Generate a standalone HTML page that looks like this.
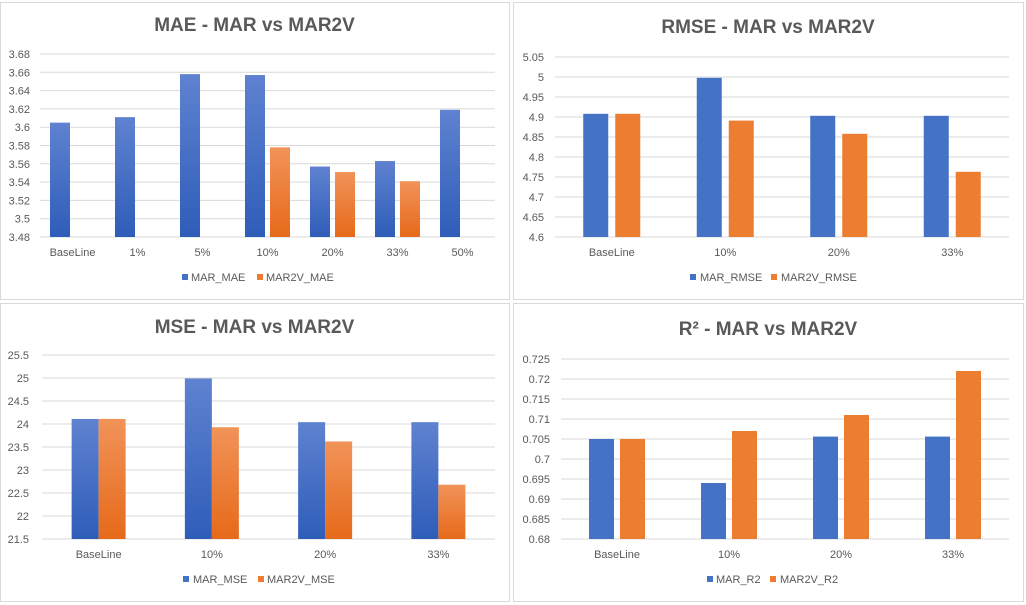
<!DOCTYPE html>
<html><head><meta charset="utf-8"><style>
html,body{margin:0;padding:0;background:#fff;width:1026px;height:605px;overflow:hidden}
svg{display:block;font-family:"Liberation Sans",Arial,sans-serif}
</style></head><body>
<svg id="c" width="1026" height="605" viewBox="0 0 1026 605" xmlns="http://www.w3.org/2000/svg">
<defs>
<linearGradient id="gb" x1="0" y1="0" x2="0" y2="1"><stop offset="0" stop-color="#5f82d0"/><stop offset="1" stop-color="#2e5db9"/></linearGradient>
<linearGradient id="go" x1="0" y1="0" x2="0" y2="1"><stop offset="0" stop-color="#f19359"/><stop offset="1" stop-color="#e66a1a"/></linearGradient>
</defs>
</svg>
<script>
// MAE chart
const maeCats = ["BaseLine","1%","5%","10%","20%","33%","50%"];
const maeMar = [3.605,3.611,3.658,3.657,3.557,3.563,3.619];
const maeMar2v = [null,null,null,3.578,3.551,3.541,null];
const maeTicks = ["3.48","3.5","3.52","3.54","3.56","3.58","3.6","3.62","3.64","3.66","3.68"];
// RMSE chart
const rmseCats = ["BaseLine","10%","20%","33%"];
const rmseMar = [4.908,4.998,4.903,4.903];
const rmseMar2v = [4.908,4.891,4.858,4.763];
const rmseTicks = ["4.6","4.65","4.7","4.75","4.8","4.85","4.9","4.95","5","5.05"];
// MSE chart
const mseCats = ["BaseLine","10%","20%","33%"];
const mseMar = [24.11,24.99,24.04,24.04];
const mseMar2v = [24.11,23.93,23.62,22.68];
const mseTicks = ["21.5","22","22.5","23","23.5","24","24.5","25","25.5"];
// R2 chart
const r2Cats = ["BaseLine","10%","20%","33%"];
const r2Mar = [0.705,0.694,0.7056,0.7056];
const r2Mar2v = [0.705,0.707,0.711,0.722];
const r2Ticks = ["0.68","0.685","0.69","0.695","0.7","0.705","0.71","0.715","0.72","0.725"];

const svg = document.getElementById('c');
const NS = "http://www.w3.org/2000/svg";
function mk(tag, attrs, parent){
  const e = document.createElementNS(NS, tag);
  for (const k in attrs) e.setAttribute(k, attrs[k]);
  (parent||svg).appendChild(e);
  return e;
}
function chart(cfg){
  const g = mk('g', {});
  
  
  const p = mk('rect', {x:cfg.px+0.5,y:cfg.py+0.5,width:cfg.pw,height:cfg.ph,fill:'#fff',stroke:'#d9d9d9'}, g);
  
  
  const t = mk('text', {x:cfg.px+cfg.pw/2,y:cfg.titleY,'text-anchor':'middle','font-size':'19','font-weight':'bold',fill:'#595959'}, g);
  t.innerHTML = cfg.title;
  
  
  const ymin = parseFloat(cfg.ticks[0]), ymax = parseFloat(cfg.ticks[cfg.ticks.length-1]);
  const yS = v => cfg.y1 - (v - ymin) / (ymax - ymin) * (cfg.y1 - cfg.y0);
  cfg.ticks.forEach(tk => {
    const y = yS(parseFloat(tk));
    const l = mk('line', {x1:cfg.x0,x2:cfg.x1,y1:y,y2:y,stroke:'#d9d9d9','stroke-width':1}, g);
    
    
    const tx = mk('text', {x:cfg.tickX,y:y+4,'text-anchor':'end','font-size':'11',fill:'#595959'}, g);
    tx.textContent = tk;
    
    
  });
  const cw = (cfg.x1 - cfg.x0) / cfg.cats.length;
  const xS = i => cfg.x0 + cw * (i + 0.5);
  cfg.cats.forEach((c, i) => {
    const cx = xS(i);
    [[cfg.s1, -1, cfg.f1],[cfg.s2, 1, cfg.f2]].forEach(([arr, side, fill]) => {
      const v = arr[i];
      if (v === null || v === undefined) return;
      const x = side < 0 ? cx - cfg.gap/2 - cfg.bw : cx + cfg.gap/2;
      const y = yS(v);
      const b = mk('rect', {x:x,y:y,width:cfg.bw,height:cfg.y1 - y,fill:fill}, g);
      
      
    });
    const lb = mk('text', {x:cx,y:cfg.catY,'text-anchor':'middle','font-size':'11',fill:'#595959'}, g);
    lb.textContent = c;
    
    
  });
  cfg.legend.forEach(([lx, tx, label, fill]) => {
    const lg = mk('g', {}, g);
    
    
    mk('rect', {x:lx,y:cfg.legY-5,width:6,height:6,fill:fill}, lg);
    const te = mk('text', {x:tx,y:cfg.legY+2,'font-size':'11',fill:'#595959'}, lg);
    te.textContent = label;
  });
}
chart({name:'mae-chart',px:0,py:2,pw:509,ph:297,title:'MAE - MAR vs MAR2V',titleY:31,
  x0:40,x1:495,y0:54,y1:237,ticks:maeTicks,tickX:30,cats:maeCats,s1:maeMar,s2:maeMar2v,
  bw:20,gap:5,f1:'url(#gb)',f2:'url(#go)',catY:256,legY:279,
  legend:[[182,191,'MAR_MAE','#4472c4'],[257,266,'MAR2V_MAE','#ed7d31']]});
chart({name:'rmse-chart',px:513,py:2,pw:510,ph:297,title:'RMSE - MAR vs MAR2V',titleY:33,
  x0:555,x1:1009,y0:57,y1:237,ticks:rmseTicks,tickX:544,cats:rmseCats,s1:rmseMar,s2:rmseMar2v,
  bw:25,gap:7,f1:'#4472c4',f2:'#ed7d31',catY:256,legY:279,
  legend:[[690,700,'MAR_RMSE','#4472c4'],[771,781,'MAR2V_RMSE','#ed7d31']]});
chart({name:'mse-chart',px:0,py:303,pw:509,ph:298,title:'MSE - MAR vs MAR2V',titleY:333,
  x0:42,x1:495,y0:355,y1:539,ticks:mseTicks,tickX:29,cats:mseCats,s1:mseMar,s2:mseMar2v,
  bw:27,gap:0,f1:'url(#gb)',f2:'url(#go)',catY:558,legY:581,
  legend:[[183,193,'MAR_MSE','#4472c4'],[258,267,'MAR2V_MSE','#ed7d31']]});
chart({name:'r2-chart',px:513,py:303,pw:510,ph:298,title:'R² - MAR vs MAR2V',titleY:335,
  x0:561,x1:1009,y0:359,y1:539,ticks:r2Ticks,tickX:550,cats:r2Cats,s1:r2Mar,s2:r2Mar2v,
  bw:25,gap:6,f1:'#4472c4',f2:'#ed7d31',catY:558,legY:581,
  legend:[[707,716,'MAR_R2','#4472c4'],[770,780,'MAR2V_R2','#ed7d31']]});
</script>
</body></html>
